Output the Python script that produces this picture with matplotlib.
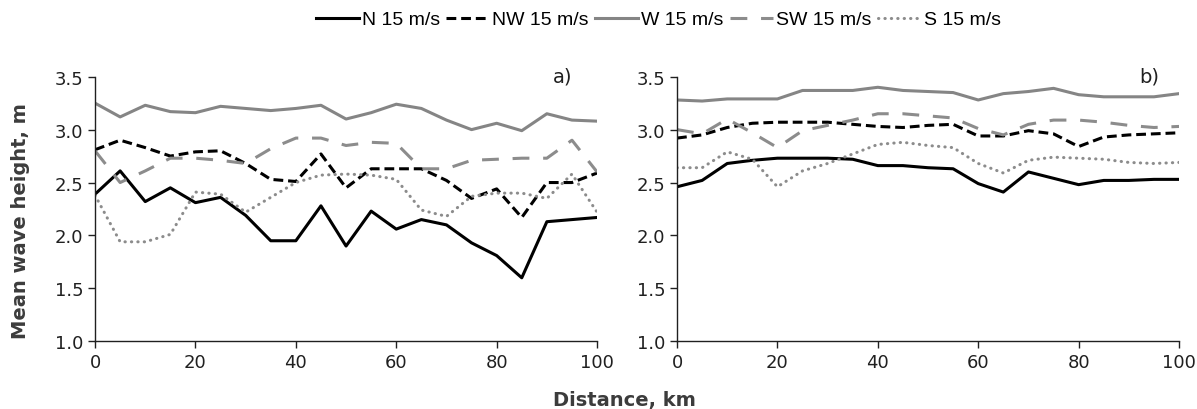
"""Mean wave height along distance for five wind directions (two panels)."""

import matplotlib

matplotlib.use("Agg")

import matplotlib.pyplot as plt
from matplotlib.ticker import FormatStrFormatter

distance_km = list(range(0, 101, 5))

# panel a)
n_a = [2.39, 2.61, 2.32, 2.45, 2.31, 2.36, 2.19, 1.95, 1.95, 2.28, 1.90,
       2.23, 2.06, 2.15, 2.10, 1.93, 1.81, 1.60, 2.13, 2.15, 2.17]
nw_a = [2.81, 2.90, 2.83, 2.75, 2.79, 2.80, 2.68, 2.53, 2.51, 2.77, 2.45,
        2.63, 2.63, 2.63, 2.52, 2.35, 2.44, 2.17, 2.50, 2.50, 2.59]
w_a = [3.25, 3.12, 3.23, 3.17, 3.16, 3.22, 3.20, 3.18, 3.20, 3.23, 3.10,
       3.16, 3.24, 3.20, 3.09, 3.00, 3.06, 2.99, 3.15, 3.09, 3.08]
sw_a = [2.80, 2.50, 2.61, 2.73, 2.73, 2.71, 2.68, 2.82, 2.92, 2.92, 2.85,
        2.88, 2.87, 2.63, 2.63, 2.71, 2.72, 2.73, 2.73, 2.90, 2.60]
s_a = [2.38, 1.94, 1.94, 2.01, 2.41, 2.39, 2.22, 2.36, 2.50, 2.57, 2.58,
       2.57, 2.53, 2.24, 2.18, 2.37, 2.40, 2.40, 2.35, 2.58, 2.22]

# panel b)
n_b = [2.46, 2.52, 2.68, 2.71, 2.73, 2.73, 2.73, 2.72, 2.66, 2.66, 2.64,
       2.63, 2.49, 2.41, 2.60, 2.54, 2.48, 2.52, 2.52, 2.53, 2.53]
nw_b = [2.92, 2.95, 3.02, 3.06, 3.07, 3.07, 3.07, 3.05, 3.03, 3.02, 3.04,
        3.05, 2.94, 2.94, 2.99, 2.96, 2.84, 2.93, 2.95, 2.96, 2.97]
w_b = [3.28, 3.27, 3.29, 3.29, 3.29, 3.37, 3.37, 3.37, 3.40, 3.37, 3.36,
       3.35, 3.28, 3.34, 3.36, 3.39, 3.33, 3.31, 3.31, 3.31, 3.34]
sw_b = [3.00, 2.96, 3.10, 2.97, 2.83, 2.99, 3.04, 3.09, 3.15, 3.15, 3.13,
        3.11, 3.01, 2.95, 3.05, 3.09, 3.09, 3.07, 3.04, 3.02, 3.03]
s_b = [2.64, 2.64, 2.79, 2.72, 2.46, 2.61, 2.68, 2.77, 2.86, 2.88, 2.85,
       2.83, 2.68, 2.59, 2.71, 2.74, 2.73, 2.72, 2.69, 2.68, 2.69]

labels = ["N 15 m/s", "NW 15 m/s", "W 15 m/s", "SW 15 m/s", "S 15 m/s"]
panels = [
    ("a)", 95.0, [n_a, nw_a, w_a, sw_a, s_a]),
    ("b)", 96.0, [n_b, nw_b, w_b, sw_b, s_b]),
]

styles = [
    dict(color="#000000", linestyle="-"),
    dict(color="#000000", linestyle=(0, (3.2, 1.6))),
    dict(color="#858585", linestyle="-"),
    dict(color="#8c8c8c", linestyle=(0, (5.5, 4.5))),
    dict(color="#8c8c8c", linestyle=(0, (0.1, 2.0)), dash_capstyle="round"),
]

text_color = "#3c3c3c"
fig = plt.figure(figsize=(11.97, 4.10), dpi=100)
axes = [
    fig.add_axes([0.0794, 0.1651, 0.4194, 0.6454]),
    fig.add_axes([0.5656, 0.1651, 0.4194, 0.6454]),
]

handles = []
for axis, (tag, tag_x, series) in zip(axes, panels):
    for values, style, label in zip(series, styles, labels):
        (line,) = axis.plot(distance_km, values, linewidth=2.2, label=label, **style)
        if axis is axes[0]:
            handles.append(line)
    axis.set_xlim(0, 100)
    axis.set_ylim(1.0, 3.5)
    axis.set_xticks(range(0, 101, 20))
    axis.set_yticks([1.0, 1.5, 2.0, 2.5, 3.0, 3.5])
    axis.yaxis.set_major_formatter(FormatStrFormatter("%.1f"))
    axis.spines["top"].set_visible(False)
    axis.spines["right"].set_visible(False)
    for side in ("left", "bottom"):
        axis.spines[side].set_linewidth(1.0)
        axis.spines[side].set_color("#202020")
    axis.tick_params(direction="out", length=5, width=1.0, labelsize=13,
                     labelcolor="#202020", color="#202020")
    axis.text(tag_x, 3.51, tag, fontsize=14, ha="right", va="center", color="#202020")

axes[0].set_ylabel("Mean wave height, m", fontsize=14, fontweight="bold", color=text_color)
axes[0].yaxis.set_label_coords(-0.13, 0.46)
fig.text(0.522, 0.024, "Distance, km", fontsize=14, fontweight="bold",
         color=text_color, ha="center", va="center")

fig.legend(handles, labels, loc="center", bbox_to_anchor=(0.55, 0.95), ncol=5,
           frameon=False, handlelength=2.2, handletextpad=0.15, columnspacing=0.35,
           prop={"family": "Liberation Sans", "size": 14})

fig.savefig("out.png", dpi=100)
